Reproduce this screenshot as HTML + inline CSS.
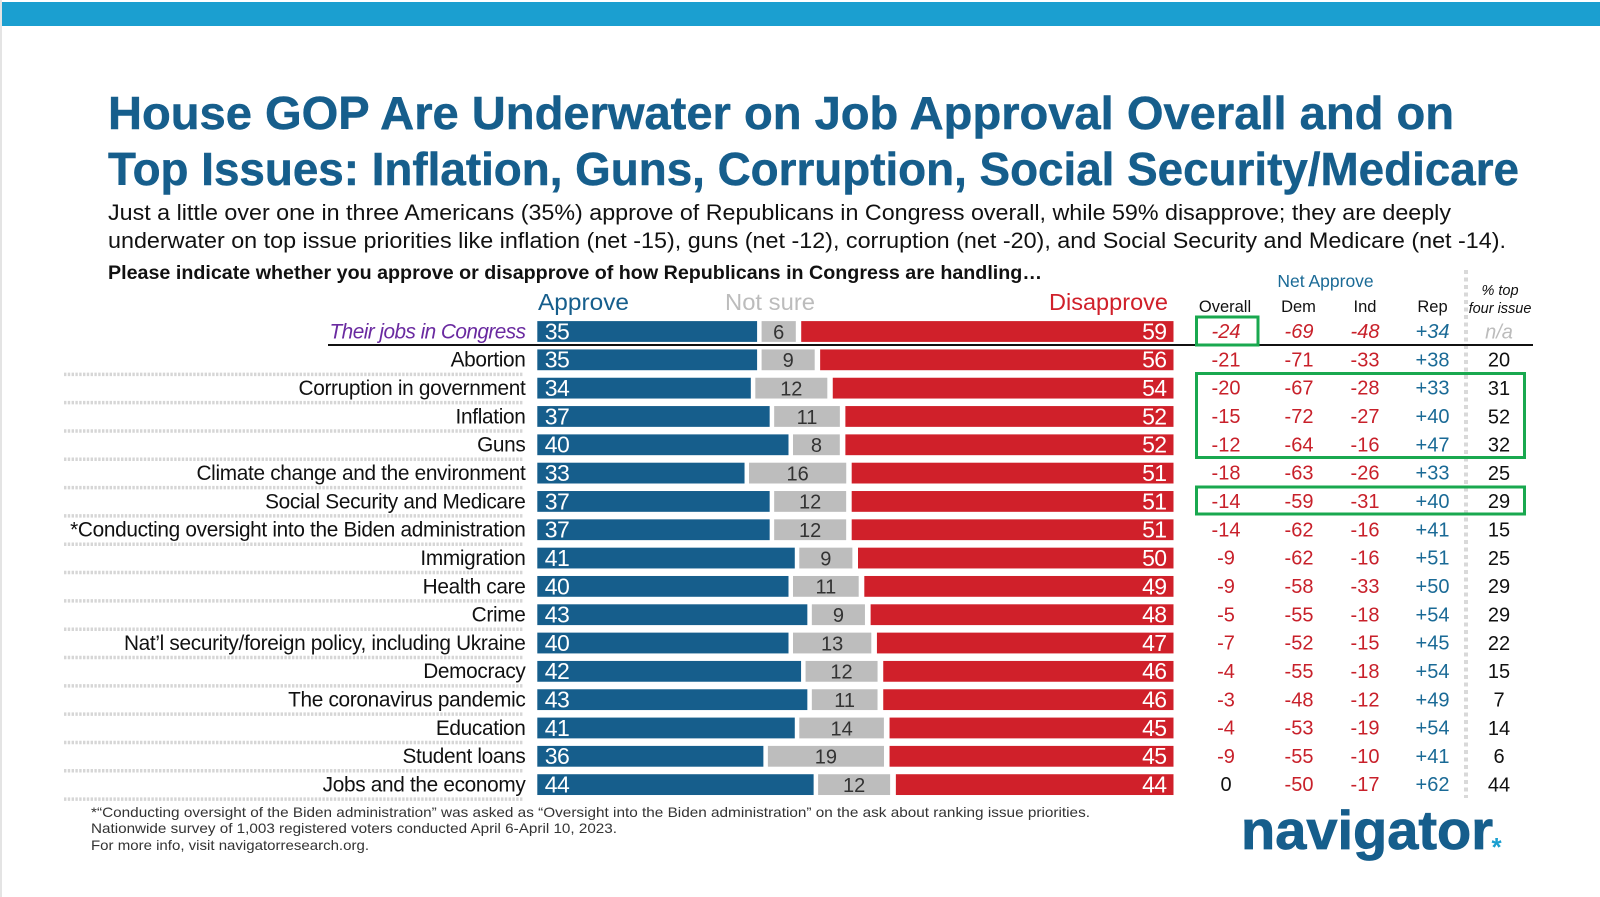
<!DOCTYPE html>
<html lang="en">
<head>
<meta charset="utf-8">
<title>House GOP Job Approval</title>
<style>
html,body{margin:0;padding:0;background:#fff;}
body{width:1600px;height:897px;overflow:hidden;}
svg{display:block;font-family:"Liberation Sans",Arial,sans-serif;}
</style>
</head>
<body>
<svg id="chart" xmlns="http://www.w3.org/2000/svg" width="1600" height="897" viewBox="0 0 1600 897">
  <rect x="0" y="0" width="1600" height="897" fill="#ffffff"/>
  <rect x="0" y="0" width="2" height="897" fill="#e4e4e4"/>
  <rect x="2" y="2" width="1598" height="24" fill="#1b9fd0"/>
  <g font-size="46" font-weight="700" fill="#165e8c" stroke="#165e8c" stroke-width="0.5">
    <text x="108" y="129" textLength="1346" lengthAdjust="spacingAndGlyphs">House GOP Are Underwater on Job Approval Overall and on</text>
    <text x="108" y="185" textLength="1411" lengthAdjust="spacingAndGlyphs">Top Issues: Inflation, Guns, Corruption, Social Security/Medicare</text>
  </g>
  <g font-size="22.5" fill="#111111">
    <text x="108" y="220" textLength="1343" lengthAdjust="spacingAndGlyphs">Just a little over one in three Americans (35%) approve of Republicans in Congress overall, while 59% disapprove; they are deeply</text>
    <text x="108" y="248" textLength="1398" lengthAdjust="spacingAndGlyphs">underwater on top issue priorities like inflation (net -15), guns (net -12), corruption (net -20), and Social Security and Medicare (net -14).</text>
  </g>
  <text x="108" y="279" font-size="19" font-weight="700" fill="#111111" textLength="934" lengthAdjust="spacingAndGlyphs">Please indicate whether you approve or disapprove of how Republicans in Congress are handling…</text>

  <g font-size="23">
    <text x="538" y="310" fill="#165e8c" textLength="91" lengthAdjust="spacingAndGlyphs">Approve</text>
    <text x="725" y="310" fill="#bcbcbc" textLength="90" lengthAdjust="spacingAndGlyphs">Not sure</text>
    <text x="1049" y="310" fill="#d0202a" textLength="119" lengthAdjust="spacingAndGlyphs">Disapprove</text>
  </g>

  <g text-anchor="middle">
    <text x="1325.5" y="287" font-size="17.5" fill="#1a6a96">Net Approve</text>
    <text x="1225" y="312" font-size="16.5" fill="#111111">Overall</text>
    <text x="1298.5" y="312" font-size="16.5" fill="#111111">Dem</text>
    <text x="1365" y="312" font-size="16.5" fill="#111111">Ind</text>
    <text x="1432.5" y="312" font-size="16.5" fill="#111111">Rep</text>
    <text x="1500" y="295" font-size="14.5" font-style="italic" fill="#111111">% top</text>
    <text x="1500" y="313" font-size="14.5" font-style="italic" fill="#111111">four issue</text>
  </g>

  <line x1="1466" y1="270" x2="1466" y2="798" stroke="#d9d9d9" stroke-width="4" stroke-dasharray="4 3.5"/>

  <g id="separators"></g>
  <g id="rows"></g>

  <line x1="328" y1="345" x2="1533" y2="345" stroke="#111111" stroke-width="2"/>

  <g fill="none" stroke="#19a84f" stroke-width="3">
    <rect x="1196.5" y="317" width="61.5" height="28"/>
    <rect x="1196.5" y="373.5" width="328" height="84"/>
    <rect x="1196.5" y="487" width="328" height="27"/>
  </g>

  <g font-size="14" fill="#333333">
    <text x="91" y="817" textLength="999" lengthAdjust="spacingAndGlyphs">*“Conducting oversight of the Biden administration” was asked as “Oversight into the Biden administration” on the ask about ranking issue priorities.</text>
    <text x="91" y="833" textLength="526" lengthAdjust="spacingAndGlyphs">Nationwide survey of 1,003 registered voters conducted April 6-April 10, 2023.</text>
    <text x="91" y="850" textLength="278" lengthAdjust="spacingAndGlyphs">For more info, visit navigatorresearch.org.</text>
  </g>

  <g>
    <text x="1241" y="849" font-size="55" font-weight="700" fill="#165e8c" stroke="#165e8c" stroke-width="0.8" textLength="252" lengthAdjust="spacingAndGlyphs">navigator</text>
    <text x="1496.5" y="856" font-size="26" font-weight="700" fill="#1b9fd0" text-anchor="middle">*</text>
  </g>
</svg>
<script>
var categories = ["Their jobs in Congress","Abortion","Corruption in government","Inflation","Guns","Climate change and the environment","Social Security and Medicare","*Conducting oversight into the Biden administration","Immigration","Health care","Crime","Nat’l security/foreign policy, including Ukraine","Democracy","The coronavirus pandemic","Education","Student loans","Jobs and the economy"];
var approveValues = [35,35,34,37,40,33,37,37,41,40,43,40,42,43,41,36,44];
var notSureValues = [6,9,12,11,8,16,12,12,9,11,9,13,12,11,14,19,12];
var disapproveValues = [59,56,54,52,52,51,51,51,50,49,48,47,46,46,45,45,44];
var netOverall = [-24,-21,-20,-15,-12,-18,-14,-14,-9,-9,-5,-7,-4,-3,-4,-9,0];
var netDem = [-69,-71,-67,-72,-64,-63,-59,-62,-62,-58,-55,-52,-55,-48,-53,-55,-50];
var netInd = [-48,-33,-28,-27,-16,-26,-31,-16,-16,-33,-18,-15,-18,-12,-19,-10,-17];
var netRep = [34,38,33,40,47,33,40,41,51,50,54,45,54,49,54,41,62];
var topIssue = [null,20,31,52,32,25,29,15,25,29,29,22,15,7,14,6,44];

var SVGNS = "http://www.w3.org/2000/svg";
var rowsGroup = document.getElementById("rows");
var sepGroup = document.getElementById("separators");

function yCenter(i){ return 331.5 + i * 28.32; }
function approveWidth(v){ return v * 6.28; }
function disapproveWidth(v){ return v * 6.31; }
function notSureWidth(v){ return v * 6.3 - 3.6; }
var BAR_LEFT = 537.3, BAR_RIGHT = 1173.5, BAR_H = 20.8, BASE_OFFSET = 7.3;

function rect(parent, x, y, w, h, fill){
  var r = document.createElementNS(SVGNS, "rect");
  r.setAttribute("x", x);
  r.setAttribute("y", y);
  r.setAttribute("width", Math.max(0, w));
  r.setAttribute("height", h);
  r.setAttribute("fill", fill);
  parent.appendChild(r);
  return r;
}
function label(parent, x, y, str, size, fill, anchor, italic){
  var t = document.createElementNS(SVGNS, "text");
  t.setAttribute("x", x);
  t.setAttribute("y", y);
  t.setAttribute("font-size", size);
  t.setAttribute("fill", fill);
  t.setAttribute("text-anchor", anchor);
  if (italic) t.setAttribute("font-style", "italic");
  t.textContent = str;
  parent.appendChild(t);
  return t;
}
function netText(v){ return v > 0 ? "+" + v : String(v); }
function netColor(v){ return v > 0 ? "#1a6a96" : (v < 0 ? "#c8202a" : "#111111"); }

var netColumns = [
  {values: netOverall, x: 1226},
  {values: netDem, x: 1299},
  {values: netInd, x: 1365},
  {values: netRep, x: 1432.5}
];

categories.forEach(function(cat, i){
  var cy = yCenter(i);
  var top = cy - BAR_H / 2;
  var base = cy + BASE_OFFSET;
  var italic = i === 0;

  var g = document.createElementNS(SVGNS, "g");
  
  
  rowsGroup.appendChild(g);

  var cl = label(g, 525.5, base - 0.4, cat, 20.8, italic ? "#6a2aa0" : "#111111", "end", italic);
  
  
  cl.setAttribute("letter-spacing", italic ? "-0.55" : "-0.32");

  var aw = approveWidth(approveValues[i]);
  var ab = rect(g, BAR_LEFT, top, aw, BAR_H, "#165e8c");
  
  
  var av = label(g, BAR_LEFT + 7.5, base + 0.6, approveValues[i], 23, "#ffffff", "start");
  
  
  av.setAttribute("letter-spacing", "-0.6");

  var nx = BAR_LEFT + aw + 4.5;
  var nw = notSureWidth(notSureValues[i]);
  var nb = rect(g, nx, top, nw, BAR_H, "#bdbdbd");
  
  
  var nv = label(g, nx + nw / 2, base, notSureValues[i], 20, "#333333", "middle");
  
  

  var dw = disapproveWidth(disapproveValues[i]);
  var db = rect(g, BAR_RIGHT - dw, top, dw, BAR_H, "#d0202a");
  
  
  var dv = label(g, BAR_RIGHT - 7, base + 0.6, disapproveValues[i], 23, "#ffffff", "end");
  
  
  dv.setAttribute("letter-spacing", "-0.6");

  netColumns.forEach(function(col){
    var v = col.values[i];
    var nt = label(g, col.x, base - 0.7, netText(v), 20, netColor(v), "middle", italic);
    
    
  });

  var ti = topIssue[i];
  var tt = label(g, 1499, base - 0.5, ti === null ? "n/a" : ti, 20, ti === null ? "#bcbcbc" : "#111111", "middle", ti === null);
  
  

  if (i > 0) {
    var s = document.createElementNS(SVGNS, "line");
    
    
    s.setAttribute("x1", 64);
    s.setAttribute("x2", 523);
    s.setAttribute("y1", cy + 14.5);
    s.setAttribute("y2", cy + 14.5);
    s.setAttribute("stroke", "#d6d6d6");
    s.setAttribute("stroke-width", 3.5);
    s.setAttribute("stroke-dasharray", "2.4 1.4");
    sepGroup.appendChild(s);
  }
});
</script>
</body>
</html>
